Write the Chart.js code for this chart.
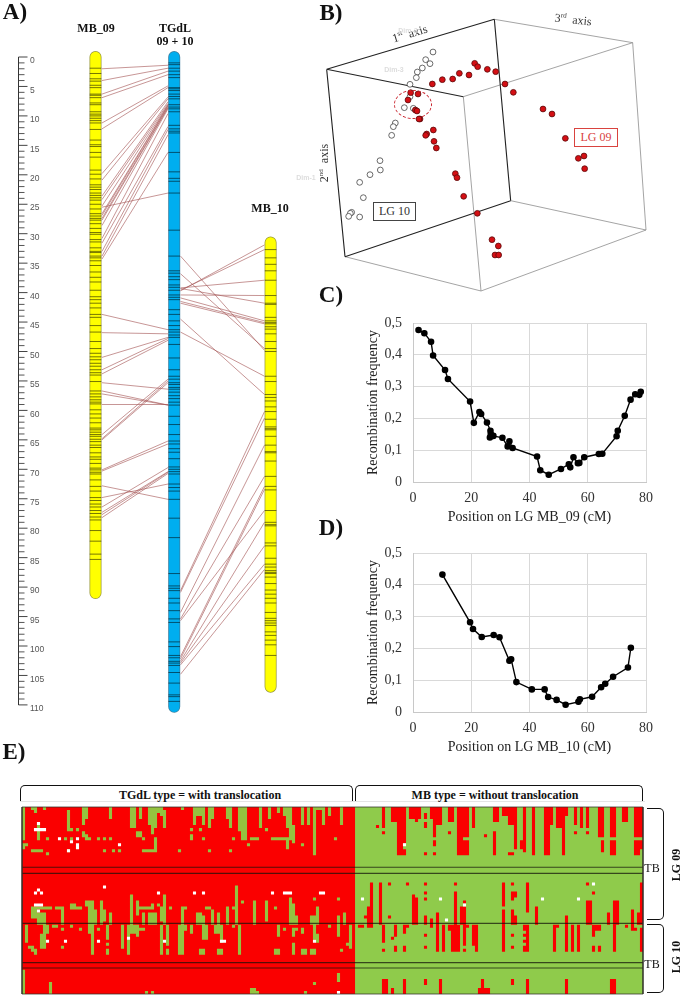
<!DOCTYPE html>
<html>
<head>
<meta charset="utf-8">
<title>Linkage maps</title>
<script src="https://cdn.jsdelivr.net/npm/chart.js@4"></script>
<style>
body { margin: 0; background: #fff; width: 683px; height: 1001px; position: relative; overflow: hidden; font-family: "Liberation Serif", serif; color: #111; }
canvas { position: absolute; }
.t { position: absolute; white-space: nowrap; transform: translate(-50%, -50%); }
.panel { font-weight: bold; font-size: 23px; }
.b { font-weight: bold; font-size: 12px; }
.ax { font-size: 12px; color: #333; }
.ax sup { font-size: 7px; }
.dim { font-family: "Liberation Sans", sans-serif; font-size: 7px; font-weight: bold; color: #ddd; }
.box { position: absolute; font-size: 12px; text-align: center; background: #fff; box-sizing: border-box; }
.brace { position: absolute; border: 1.3px solid #111; box-sizing: border-box; }
</style>
</head>
<body>
<canvas id="mapChart" width="300" height="740" style="left:0px;top:0px"></canvas>
<canvas id="pcoaChart" width="340" height="295" style="left:310px;top:0px"></canvas>
<canvas id="chartC" width="295" height="213" style="left:360px;top:313px"></canvas>
<canvas id="chartD" width="295" height="213" style="left:360px;top:543px"></canvas>
<canvas id="genoChart" width="625" height="191" style="left:20px;top:805px"></canvas>

<div class="t panel" style="left:15px;top:12px">A)</div>
<div class="t panel" style="left:331px;top:13px">B)</div>
<div class="t panel" style="left:331px;top:295px">C)</div>
<div class="t panel" style="left:331px;top:528px">D)</div>
<div class="t panel" style="left:14px;top:752px">E)</div>

<div class="t b" style="left:96px;top:28px">MB_09</div>
<div class="t b" style="left:175px;top:28px">TGdL</div>
<div class="t b" style="left:175px;top:41px">09 + 10</div>
<div class="t b" style="left:270px;top:208px">MB_10</div>

<div class="t ax" style="left:410px;top:34px;transform:translate(-50%,-50%) rotate(-17deg)">1<sup>st</sup>&nbsp; axis</div>
<div class="t ax" style="left:573px;top:20px;transform:translate(-50%,-50%) rotate(6deg)">3<sup>rd</sup>&nbsp; axis</div>
<div class="t ax" style="left:324px;top:163px;transform:translate(-50%,-50%) rotate(-90deg)">2<sup>nd</sup>&nbsp; axis</div>
<div class="t dim" style="left:394px;top:69px">Dim-3</div>
<div class="t dim" style="left:306px;top:177px">Dim-1</div>
<div class="t dim" style="left:408px;top:30px">Dim-2</div>
<div class="box" style="left:574px;top:128px;width:44px;height:19px;line-height:17px;border:1px solid #d9433f;color:#d9433f">LG 09</div>
<div class="box" style="left:373px;top:202px;width:43px;height:19px;line-height:17px;border:1px solid #444;color:#333">LG 10</div>
<div style="position:absolute;left:394px;top:90px;width:36px;height:27px;border:1px dashed #c8202a;border-radius:50%"></div>

<div class="brace" style="left:20px;top:785px;width:333px;height:17px;border-bottom:0;border-radius:5px 5px 0 0"></div>
<div class="brace" style="left:355px;top:785px;width:288px;height:17px;border-bottom:0;border-radius:5px 5px 0 0"></div>
<div style="position:absolute;left:20px;top:801px;width:625px;height:1px;background:#e4e4e4"></div>
<div class="t b" style="left:200px;top:795px">TGdL type = with translocation</div>
<div class="t b" style="left:495px;top:795px">MB type = without translocation</div>
<div class="brace" style="left:647px;top:808px;width:17px;height:112px;border-left:0;border-radius:0 5px 5px 0"></div>
<div class="brace" style="left:647px;top:924px;width:17px;height:69px;border-left:0;border-radius:0 5px 5px 0"></div>
<div class="t" style="left:652px;top:868px;font-size:12px">TB</div>
<div class="t" style="left:652px;top:964px;font-size:12px">TB</div>
<div class="t b" style="left:676px;top:865px;transform:translate(-50%,-50%) rotate(-90deg)">LG 09</div>
<div class="t b" style="left:676px;top:957px;transform:translate(-50%,-50%) rotate(-90deg)">LG 10</div>

<script>
// A) linkage maps, positions in cM
var rulerLabels = [0, 5, 10, 15, 20, 25, 30, 35, 40, 45, 50, 55, 60, 65, 70, 75, 80, 85, 90, 95, 100, 105, 110];
var mb09Span = [0, 91];
var tgdlSpan = [0, 110.3];
var mb10Span = [31.5, 106.9];
var mb09Markers = [1.9, 2.8, 3.7, 4.1, 4.8, 5.2, 6.3, 6.5, 6.9, 7.8, 8.1, 9.3, 9.7, 10, 10.4, 10.8, 11.2, 12.3, 14.1, 14.9, 15.2, 16.2, 17, 19.2, 19.9, 20.7, 21.7, 22.1, 22.5, 23.1, 23.5, 23.9, 24.3, 25, 25.8, 26.6, 27, 27.4, 27.7, 28.3, 29.1, 29.8, 30.1, 31, 31.4, 32.4, 33, 33.2, 33.8, 34.1, 34.6, 35.4, 36.5, 37.4, 38.2, 39.6, 40.7, 41.2, 41.8, 42.6, 43.7, 44.2, 45.6, 46.7, 48.3, 49.5, 50.3, 50.9, 51.4, 52, 52.5, 53.1, 53.6, 54, 55.1, 56.7, 57.2, 57.7, 58.2, 58.6, 58.9, 59.9, 60.6, 61.3, 62.1, 63, 63.3, 63.7, 64.1, 64.4, 64.9, 65.3, 65.9, 66.3, 67.2, 67.9, 68.3, 69, 69.8, 70.1, 70.5, 70.8, 71.8, 72.9, 73.7, 74.8, 75.3, 75.9, 76.4, 77, 77.5, 78.1, 78.6, 80.4, 82.2, 84.4, 85.3];
var tgdlMarkers = [1, 1.3, 1.9, 2.4, 3, 3.5, 5.2, 5.4, 5.7, 6.3, 6.7, 7.1, 8.1, 8.5, 8.8, 9.3, 11.6, 12.2, 12.6, 12.9, 16.2, 19.5, 20.6, 21.1, 23.1, 29.4, 33.8, 36.3, 36.7, 37.3, 37.8, 38.7, 39.1, 39.6, 40.4, 40.8, 41.2, 42.9, 43.7, 44.8, 45.6, 46.3, 46.7, 47.2, 47.6, 48.8, 51.1, 53.1, 54.2, 54.7, 55.3, 55.6, 56.1, 56.4, 56.9, 57.5, 58, 58.6, 59.1, 61, 62.4, 64.1, 65.2, 65.7, 66.5, 67.1, 68.2, 69.6, 70, 70.4, 70.8, 72.5, 73.1, 73.7, 75.1, 78.3, 81.6, 87.7, 89.8, 90.2, 90.6, 91.9, 92.7, 94, 95.4, 96, 99.3, 100.1, 101.6, 102, 102.6, 102.9, 103.3, 104.5, 106.3, 108.3, 108.6, 109.4];
var mb10Markers = [32.7, 34.1, 35.2, 36.3, 37.9, 40.5, 41.8, 42, 44.2, 44.8, 45.1, 45.3, 45.8, 46.2, 47, 48.3, 49.5, 50, 54.2, 55.1, 57.3, 57.8, 58.4, 59.4, 60.2, 61.5, 62.8, 63.1, 63.3, 64.4, 65.9, 67, 67.2, 68.6, 71.2, 72.9, 73.5, 77, 79, 79.4, 79.6, 82.5, 83, 85.1, 86.1, 86.6, 87.2, 87.5, 87.7, 88.3, 89.4, 90.5, 91.2, 91.9, 92.7, 94.3, 95.3, 95.7, 96.1, 96.5, 97.6, 98.2, 99, 99.8, 101.6];
var links0910 = [[2, 1.4], [4, 1.9], [6.3, 2.4], [6.9, 3], [11.2, 4.9], [12.2, 5.2], [19.8, 6.8], [20.9, 7.1], [23.6, 7.6], [24.2, 7.9], [25.3, 8.1], [26.6, 8.2], [26.9, 8.3], [27.4, 8.5], [27.7, 8.6], [28.6, 8.8], [30.8, 9.6], [31.6, 11.8], [33, 12.3], [33.8, 13.2], [34.3, 16.2], [25.5, 23.1], [43.7, 46.3], [46.8, 47], [51, 47.6], [53.1, 47.8], [53.8, 48.1], [55.3, 56.4], [56.7, 59.1], [57.2, 59.1], [59, 59], [64.1, 54.7], [64.8, 55], [65, 55.3], [70.1, 65.2], [70.3, 65.7], [74.8, 72.5], [76.4, 69.7], [77.3, 70.4], [77.7, 70.5], [78.2, 70.7], [72.8, 75.1]];
var linksTgdl10 = [[33.8, 49.8], [36.8, 49.5], [39.7, 31.9], [39.6, 32.7], [39.2, 37.9], [39.3, 41.8], [40.4, 40.5], [40.9, 44.8], [41.5, 45.1], [41.8, 45.3], [44.5, 57.3], [46.7, 54.2], [90.6, 60.2], [90.9, 61.3], [94.3, 65.9], [95.4, 71.2], [95.7, 77], [101.8, 72.9], [102.2, 73.4], [102.6, 79], [102.9, 83], [103.2, 86.1], [104.8, 87]];

// B) projected positions on the 3 axes view
var boxDark = [[[50, 208], [553, 58]], [[50, 208], [105, 770]], [[553, 58], [602, 602]], [[50, 208], [460, 290]], [[105, 770], [602, 602]]];
var boxLight = [[[460, 290], [513, 873]], [[553, 58], [968, 128]], [[968, 128], [460, 290]], [[968, 128], [1008, 690]], [[602, 602], [1008, 690]], [[1008, 690], [513, 873]], [[105, 770], [513, 873]]];
var lg10Points = [[369, 156], [347, 179], [360, 191], [337, 204], [322, 216], [319, 233], [300, 253], [300, 290], [283, 323], [310, 325], [256, 369], [250, 380], [245, 406], [210, 482], [211, 510], [180, 524], [149, 547], [160, 593], [125, 637], [121, 640], [116, 649], [149, 651]];
var lg09Points = [[367, 252], [397, 239], [428, 237], [448, 220], [477, 225], [494, 190], [503, 200], [532, 208], [557, 215], [585, 252], [610, 277], [699, 327], [726, 342], [766, 415], [805, 475], [822, 468], [824, 506], [302, 278], [324, 282], [294, 300], [316, 330], [321, 333], [330, 357], [327, 357], [370, 390], [350, 402], [347, 406], [372, 424], [379, 444], [436, 521], [441, 533], [461, 589], [502, 640], [546, 719], [565, 738], [555, 765], [566, 765]];

// C) and D) recombination frequency along the map
var posC = [1.9, 3.9, 6.2, 6.9, 11, 12, 19.6, 20.9, 22.8, 23.4, 25.4, 26.6, 26.7, 26.4, 27.6, 30.7, 32.5, 33.1, 34.2, 42.6, 43.7, 46.6, 50.8, 53.5, 54, 55.1, 56.6, 57.1, 58.8, 63.8, 65, 69.9, 70.3, 72.7, 74.7, 76.3, 77.7, 78.2];
var freqC = [0.478, 0.468, 0.441, 0.398, 0.352, 0.324, 0.253, 0.186, 0.22, 0.214, 0.187, 0.161, 0.151, 0.14, 0.145, 0.139, 0.112, 0.128, 0.107, 0.08, 0.037, 0.023, 0.041, 0.056, 0.046, 0.078, 0.059, 0.06, 0.078, 0.088, 0.089, 0.144, 0.161, 0.208, 0.259, 0.276, 0.274, 0.284];
var posD = [10.1, 19.6, 20.6, 23.6, 27.7, 29.7, 33.1, 33.7, 35.5, 40.8, 45.2, 46.4, 49.3, 52.4, 56.8, 57.3, 61.5, 64.6, 66, 68.7, 73.8, 74.8];
var freqD = [0.432, 0.282, 0.261, 0.236, 0.242, 0.235, 0.161, 0.166, 0.094, 0.071, 0.071, 0.047, 0.038, 0.023, 0.032, 0.04, 0.048, 0.078, 0.089, 0.111, 0.14, 0.202];

// E) genotype matrix, runs are [firstCol, lastCol, firstRow, lastRow]
var genoCols = 207;
var genoRows = 62;
var tgdlLastCol = 110;
var tgdlGreenRuns = [
  [0,0,0,7],[0,0,8,10],[0,0,12,13],[3,4,0,0],[4,4,1,1],[7,7,0,0],[5,5,5,10],[8,8,10,10],[8,8,15,15],
  [15,15,1,7],[16,16,7,7],[18,18,7,7],[20,21,0,3],[20,20,4,5],[20,20,8,9],[21,21,9,10],[22,22,10,10],[29,29,0,3],[36,37,0,6],[38,39,8,9],[40,40,10,10],
  [39,39,0,3],[42,44,0,5],[45,45,0,1],[43,44,6,6],[46,46,0,2],[47,47,1,6],[44,44,10,14],[41,43,14,14],[43,43,6,8],[53,53,0,0],[57,60,0,2],[57,57,3,5],[60,60,3,5],[56,56,7,7],[56,56,9,10],[60,60,10,10],[59,59,7,7],
  [62,62,0,6],[63,63,0,3],[68,68,0,3],[69,69,0,6],[72,74,0,6],[72,74,7,7],[73,74,8,10],[70,70,10,10],[76,78,10,10],[79,79,0,6],[82,82,0,3],[81,81,7,7],[85,85,0,1],[87,87,0,2],[88,89,0,6],[89,90,6,10],[83,87,10,10],[90,90,10,11],[88,88,10,13],
  [93,93,0,5],[95,95,0,5],[97,97,0,15],[98,99,0,0],[100,100,0,5],[102,102,0,2],[104,104,10,10],[106,106,0,5],
  [1,1,12,12],[3,5,14,14],[6,6,14,14],[8,8,15,15],[15,15,14,14],[27,27,14,14],[30,30,14,14],[32,32,14,14],[40,41,14,14],[52,52,14,14],[62,62,14,14],[69,69,14,14],[75,75,12,12],[93,93,12,12],
  [14,14,10,10],[16,16,10,10],[25,25,10,10],[27,27,10,10],[29,29,10,10],
  [36,36,29,38],[47,47,29,38],[71,71,26,38],[77,77,31,38],[73,73,31,31],[81,81,31,37],[97,97,30,30],[105,105,30,30],[38,38,31,35],[39,42,33,33],[40,40,35,38],[42,44,35,38],[45,45,32,32],[43,43,32,33],[46,46,33,37],
  [49,49,33,33],[53,53,33,38],[54,54,33,33],[58,60,36,38],[58,59,35,35],[61,62,33,33],[63,63,34,38],[65,65,35,38],[68,68,33,38],[70,70,33,33],
  [3,4,33,36],[5,7,35,38],[5,9,33,33],[11,13,33,33],[13,13,33,38],[16,17,32,33],[18,19,33,33],[21,21,31,32],[22,23,31,38],[24,24,34,38],[26,26,31,38],[27,27,34,37],[29,29,35,38],
  [84,84,33,33],[89,89,30,38],[90,90,32,38],[91,91,36,38],[96,97,36,38],[98,98,33,38],[105,105,36,38],[107,107,35,38],
  [1,1,39,44],[6,6,42,46],[7,7,39,46],[8,8,39,41],[10,11,39,39],[13,13,40,40],[16,16,39,39],[19,19,40,40],[22,23,39,41],[23,23,39,48],[25,25,40,40],[28,28,39,43],[28,28,45,45],[28,28,47,48],[33,33,39,46],[36,37,39,41],[35,35,39,47],[35,35,47,48],[38,38,39,42],[39,40,40,40],
  [46,46,39,46],[48,48,39,45],[46,46,47,48],[48,48,47,48],[52,53,39,48],[54,54,39,40],[56,56,39,41],[60,61,39,43],[59,60,47,48],[64,66,39,41],[66,66,39,44],[65,66,47,48],[70,70,39,39],[72,72,39,48],
  [85,85,39,42],[84,85,47,48],[87,87,40,40],[90,91,40,40],[90,90,41,42],[90,90,45,48],[93,93,40,41],[93,94,47,48],[97,97,39,43],[98,98,42,44],[96,97,47,48],[102,102,39,39],[105,105,39,42],[106,106,47,47],
  [3,3,46,47],[4,4,47,48],[2,2,46,46],[13,13,46,46],[109,109,39,46],[108,109,45,45],
  [0,0,54,61],[9,9,58,61],[43,43,61,61],[41,41,61,61],[76,77,60,61],[78,78,61,61],[94,94,61,61],[97,97,58,58],[105,105,55,57]
];
var mbRedRuns = [
  [120,120,0,6],[120,120,8,8],[118,118,6,6],[123,127,0,4],[125,127,5,6],[125,126,7,15],[127,127,7,11],[127,127,14,15],[129,132,0,3],[131,131,3,4],[134,134,2,3],[134,134,5,6],[134,134,15,15],[136,139,0,3],[138,139,4,5],[137,137,4,9],[137,137,11,12],[137,137,15,15],
  [142,143,0,4],[142,142,8,8],[145,148,0,7],[145,146,8,15],[147,148,7,9],[147,148,11,15],[150,150,0,6],[154,154,9,9],[157,158,0,4],[157,157,8,15],[160,163,0,2],[162,163,3,5],[162,163,15,15],[164,164,0,13],[167,167,0,9],[167,167,10,14],[166,166,11,13],[170,170,0,15],
  [174,175,0,15],[176,176,0,5],[178,181,0,2],[178,179,3,6],[180,180,0,15],[184,184,0,5],[184,184,8,8],[186,186,0,6],[188,188,0,6],[188,188,8,8],[192,193,0,9],[193,193,11,14],[196,197,0,9],[196,197,11,15],[200,201,0,4],[204,206,0,9],[204,205,11,15],[206,206,11,13],
  [116,116,25,38],[119,119,25,38],[115,116,33,38],[114,114,36,36],[122,122,25,25],[122,122,36,36],[128,128,25,25],[134,134,25,25],[134,134,28,28],[134,134,30,30],[134,134,36,38],[136,136,37,38],[138,138,35,38],[130,130,29,38],[131,131,30,38],[144,144,25,25],[144,144,28,38],[146,147,33,38],[147,147,31,31],
  [160,160,25,32],[160,160,34,38],[163,163,25,25],[163,164,28,29],[163,163,30,30],[163,163,34,38],[164,164,36,38],[168,168,25,34],[171,171,33,38],[181,181,36,38],[188,188,25,25],[190,190,28,28],[188,189,31,38],[197,198,31,38],[195,195,35,38],[203,203,34,38],[205,205,35,38],[206,206,25,38],
  [112,113,39,39],[115,116,39,39],[120,120,39,43],[120,120,44,44],[120,120,47,47],[124,124,39,42],[123,123,43,43],[127,127,39,41],[124,124,46,47],[127,127,46,47],[128,128,39,39],[134,134,42,42],[134,134,46,46],[136,136,39,39],[138,138,39,47],[140,140,39,45],[140,140,46,47],[142,145,39,40],[143,144,40,47],[145,145,41,47],[147,147,39,45],[147,147,47,47],[148,148,39,39],[150,150,39,45],[151,151,39,47],
  [160,160,39,47],[163,163,42,42],[163,163,46,46],[167,168,39,40],[167,167,42,42],[167,167,44,44],[167,167,46,47],[168,168,40,47],[177,177,39,47],[178,178,39,39],[181,181,39,47],[183,183,39,47],[185,185,39,47],[190,190,39,42],[191,192,39,40],[190,190,46,47],[192,192,46,47],[197,197,39,47],[201,201,39,39],[203,203,39,40],[204,204,40,40],[206,206,40,47],
  [120,121,57,61],[123,123,60,61],[127,127,57,57],[127,127,58,61],[134,134,57,57],[134,134,58,58],[139,139,57,61],[153,153,57,59],[152,155,60,61],[163,163,57,57],[163,163,58,58],[168,168,57,57],[168,168,58,61],[181,181,57,57],[181,181,58,61],[196,197,57,61]
];
var whiteCells = [
  [5,5,5,5],[4,7,7,7],[12,12,10,10],[18,18,10,10],[16,16,11,11],[18,18,12,13],[15,15,14,14],[32,32,12,12],[127,127,12,12],
  [27,27,26,26],[5,5,27,27],[4,4,28,28],[6,6,28,28],[45,45,28,28],[57,57,28,28],[60,60,28,28],[83,83,28,28],[87,89,28,28],[99,100,28,28],[4,6,32,32],[5,5,34,34],
  [113,113,30,30],[139,139,30,30],[147,147,32,32],[141,141,37,37],[173,173,30,30],[185,185,30,30],[190,190,25,25],
  [8,8,44,44],[14,14,44,44],[25,25,44,44],[35,35,43,43],[47,47,44,44],[66,67,44,44],[97,97,44,44],[105,105,61,61]
];
var rowLines = [20, 22, 38.6, 51.6, 53.4];

function segments(pairs) {
  var out = [];
  pairs.forEach(function (p) {
    out.push({x: p[0][0], y: p[0][1]}, {x: p[1][0], y: p[1][1]}, {x: p[1][0], y: null});
  });
  return out;
}

function linkSegments(links, xLeft, xRight) {
  return segments(links.map(function (l) { return [[xLeft, l[0]], [xRight, l[1]]]; }));
}

function markerData(values, x) {
  return values.map(function (v) { return {x: x, y: v}; });
}

// ---- A
var xMb09 = 95.5, xTgdl = 174.2, xMb10 = 270.6, rulerX = 18.5;

function chromDatasets(span, x, fill, edge, markers) {
  return [
    {data: markerData(markers, x), showLine: false, pointStyle: 'line', pointRadius: 5.8, pointBorderWidth: 0.9, pointBorderColor: 'rgba(0,0,0,0.6)', clip: false, order: 1},
    {data: markerData(span, x), showLine: true, borderColor: fill, borderWidth: 10.5, borderCapStyle: 'round', pointRadius: 0, clip: false, order: 2},
    {data: markerData(span, x), showLine: true, borderColor: edge, borderWidth: 12, borderCapStyle: 'round', pointRadius: 0, clip: false, order: 3}
  ];
}

var rulerMinor = [];
for (var i = 0; i <= 110; i++) {
  if (rulerLabels.indexOf(i) < 0) rulerMinor.push(i);
}

var linkColor = 'rgba(165,85,85,0.62)';

new Chart(document.getElementById('mapChart'), {
  type: 'scatter',
  data: {datasets: [
    {data: linkSegments(links0910, 102, 168), showLine: true, borderColor: linkColor, borderWidth: 1, pointRadius: 0, clip: false, order: 4},
    {data: linkSegments(linksTgdl10, 180.5, 264.5), showLine: true, borderColor: linkColor, borderWidth: 1, pointRadius: 0, clip: false, order: 4},
    {data: markerData([0, 110], rulerX), showLine: true, borderColor: '#333', borderWidth: 1, pointRadius: 0, clip: false, order: 5},
    {data: markerData(rulerLabels, rulerX + 4.5), showLine: false, pointStyle: 'line', pointRadius: 4.5, pointBorderWidth: 1, pointBorderColor: '#444', clip: false, order: 5},
    {data: markerData(rulerMinor, rulerX + 3), showLine: false, pointStyle: 'line', pointRadius: 3, pointBorderWidth: 1, pointBorderColor: '#555', clip: false, order: 5}
  ].concat(
    chromDatasets(mb09Span, xMb09, '#ffff00', '#9a9a3a', mb09Markers),
    chromDatasets(tgdlSpan, xTgdl, '#00aeef', '#3d7f9e', tgdlMarkers),
    chromDatasets(mb10Span, xMb10, '#ffff00', '#9a9a3a', mb10Markers)
  )},
  options: {
    responsive: false,
    animation: false,
    layout: {autoPadding: false, padding: {top: 57, bottom: 17, left: 0, right: 0}},
    plugins: {legend: {display: false}, tooltip: {enabled: false}},
    scales: {
      x: {display: false, min: 0, max: 300},
      y: {display: false, reverse: true, min: 0, max: 110},
      // label axis sits a few px under the ruler ticks, like the source drawing
      yLabels: {
        position: 'left', reverse: true, min: -0.66, max: 109.34,
        afterBuildTicks: function (s) { s.ticks = rulerLabels.map(function (v) { return {value: v}; }); },
        afterFit: function (s) { s.width = 0; },
        grid: {display: false, drawTicks: false},
        border: {display: false},
        ticks: {mirror: true, padding: 30, autoSkip: false, color: '#555', font: {family: 'Liberation Sans', size: 8.5}}
      }
    }
  }
});

// ---- B
new Chart(document.getElementById('pcoaChart'), {
  type: 'scatter',
  data: {datasets: [
    {data: lg09Points.map(function (p) { return {x: p[0], y: p[1]}; }), pointRadius: 2.9, pointBackgroundColor: '#d40f14', pointBorderColor: '#5a0a0a', pointBorderWidth: 0.8, order: 1},
    {data: lg10Points.map(function (p) { return {x: p[0], y: p[1]}; }), pointRadius: 2.9, pointBackgroundColor: '#fff', pointBorderColor: '#444', pointBorderWidth: 0.8, order: 2},
    {data: segments(boxDark), showLine: true, borderColor: '#222', borderWidth: 1.1, pointRadius: 0, order: 3},
    {data: segments(boxLight), showLine: true, borderColor: '#8d8d8d', borderWidth: 0.8, pointRadius: 0, order: 4}
  ]},
  options: {
    responsive: false,
    animation: false,
    layout: {autoPadding: false},
    plugins: {legend: {display: false}, tooltip: {enabled: false}},
    scales: {
      x: {display: false, min: 0, max: 1020},
      y: {display: false, reverse: true, min: 0, max: 885}
    }
  }
});

// ---- C, D
function recombChart(id, pos, freq, title) {
  var axisFont = {family: 'Liberation Serif', size: 14};
  new Chart(document.getElementById(id), {
    type: 'scatter',
    data: {datasets: [{
      data: pos.map(function (p, i) { return {x: p, y: freq[i]}; }),
      showLine: true, borderColor: '#000', borderWidth: 1.4,
      pointRadius: 2.6, pointBackgroundColor: '#000', pointBorderColor: '#000', clip: false
    }]},
    options: {
      responsive: false,
      animation: false,
      layout: {autoPadding: false, padding: {top: 10, right: 9, left: 0, bottom: 0}},
      plugins: {legend: {display: false}, tooltip: {enabled: false}},
      scales: {
        x: {
          min: 0, max: 80,
          afterFit: function (s) { s.height = 44; s.paddingLeft = 0; s.paddingRight = 0; },
          grid: {color: '#d9d9d9', drawTicks: false},
          border: {color: '#c8c8c8'},
          ticks: {stepSize: 20, padding: 8, color: '#333', font: axisFont, maxRotation: 0},
          title: {display: true, text: title, color: '#222', font: axisFont, padding: 0}
        },
        y: {
          min: 0, max: 0.5,
          afterFit: function (s) { s.width = 53; s.paddingTop = 0; s.paddingBottom = 0; },
          grid: {color: '#d9d9d9', drawTicks: false},
          border: {color: '#c8c8c8'},
          ticks: {stepSize: 0.1, padding: 11, color: '#333', font: axisFont, callback: function (v) { return v === 0 ? '0' : v.toFixed(1).replace('.', ','); }},
          title: {display: true, text: 'Recombination frequency', color: '#222', font: axisFont, padding: {top: 5, bottom: 0}}
        }
      }
    }
  });
}
recombChart('chartC', posC, freqC, 'Position on LG MB_09 (cM)');
recombChart('chartD', posD, freqD, 'Position on LG MB_10 (cM)');

// ---- E
function runCells(runs) {
  var out = [];
  runs.forEach(function (r) {
    for (var c = r[0]; c <= r[1]; c++) {
      out.push({x: c + 0.5, y: r[2]}, {x: c + 0.5, y: r[3] + 1}, {x: c + 0.5, y: null});
    }
  });
  return out;
}

function cellDataset(runs, color, order) {
  return {data: runCells(runs), showLine: true, borderColor: color, borderWidth: 3.1, borderCapStyle: 'butt', pointRadius: 0, order: order};
}

var genoGreen = '#8fcb4b';
var genoRed = '#fa0000';
var rowLineData = segments(rowLines.map(function (r) { return [[0, r], [genoCols, r]]; }));

new Chart(document.getElementById('genoChart'), {
  type: 'scatter',
  data: {datasets: [
    {data: segments([[[0, 0], [0, genoRows]], [[0, 0], [genoCols, 0]], [[genoCols, 0], [genoCols, genoRows]], [[0, genoRows], [genoCols, genoRows]]]), showLine: true, borderColor: 'rgba(50,50,40,0.75)', borderWidth: 1, pointRadius: 0, clip: false, order: 1},
    {data: rowLineData, showLine: true, borderColor: 'rgba(20,20,10,0.72)', borderWidth: 1.1, pointRadius: 0, order: 2},
    cellDataset(whiteCells, '#fff', 3),
    cellDataset(tgdlGreenRuns, '#94c240', 4),
    cellDataset(mbRedRuns, genoRed, 4),
    cellDataset([[0, tgdlLastCol, 0, genoRows - 1]], genoRed, 5),
    cellDataset([[tgdlLastCol + 1, genoCols - 1, 0, genoRows - 1]], genoGreen, 5)
  ]},
  options: {
    responsive: false,
    animation: false,
    layout: {autoPadding: false, padding: {left: 2, right: 2, top: 2, bottom: 2}},
    plugins: {legend: {display: false}, tooltip: {enabled: false}},
    scales: {
      x: {display: false, min: 0, max: genoCols},
      y: {display: false, reverse: true, min: 0, max: genoRows}
    }
  }
});
</script>
</body>
</html>
